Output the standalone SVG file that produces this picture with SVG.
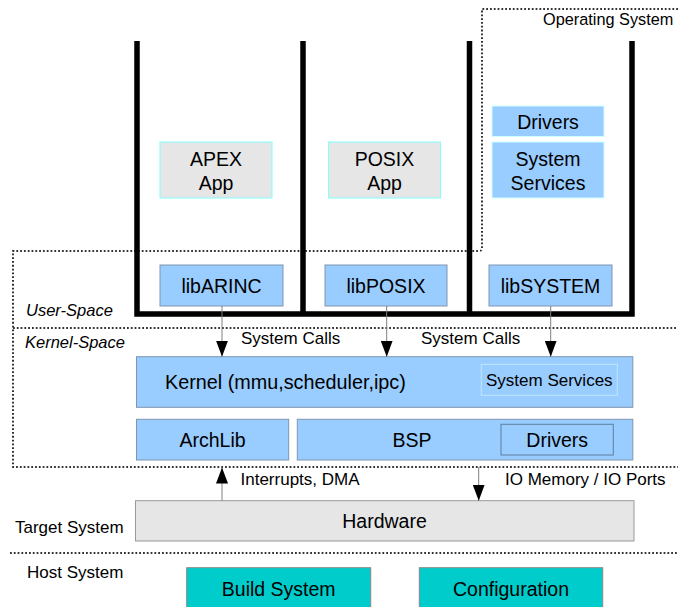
<svg xmlns="http://www.w3.org/2000/svg" width="678" height="607" viewBox="0 0 678 607">
<style>
text{font-family:"Liberation Sans",Arial,sans-serif;fill:#000}
.big{font-size:19.5px;text-anchor:middle}
.sm{font-size:17px}
.it{font-size:16.5px;font-style:italic}
.dot{fill:none;stroke:#333;stroke-width:2;stroke-dasharray:1.8 2}
.app{fill:#e6e6e6;stroke:#80ffff;stroke-width:1}
.osb{fill:#99ccff;stroke:#ccffff;stroke-width:1}
.blu{fill:#99ccff;stroke:#7f95b0;stroke-width:1}
.hw{fill:#e6e6e6;stroke:#999;stroke-width:1}
.host{fill:#00cccc;stroke:#888;stroke-width:1}
.arr{stroke:#808080;stroke-width:1;fill:none;marker-end:url(#ah)}
</style>
<defs>
<marker id="ah" markerUnits="userSpaceOnUse" markerWidth="16" markerHeight="12" refX="16" refY="6" orient="auto">
<path d="M0,0 L16,6 L0,12 z" fill="#000"/>
</marker>
</defs>
<rect width="678" height="607" fill="#fff"/>
<g id="regions">
<path class="dot" d="M678,9 H482 V248 Q482,251 479,251 H13 V467 H678"/>
<path class="dot" d="M13,328 H678"/>
<path class="dot" d="M10,553 H678"/>
<text x="543" y="25" style="font-size:16.3px">Operating System</text>
<text class="it" x="26" y="316">User-Space</text>
<text class="it" x="25" y="348">Kernel-Space</text>
<text class="sm" x="15" y="533">Target System</text>
<text class="sm" x="27" y="578">Host System</text>
</g>
<g id="partitions" fill="none" stroke="#000" stroke-width="5.5">
<path d="M137,41 V314 H632 V41"/>
<path d="M303,41 V314"/>
<path d="M469.5,41 V314"/>
</g>
<g id="apex"><rect class="app" x="160" y="142" width="112" height="56"/><text class="big" x="216" y="165.5">APEX</text><text class="big" x="216" y="189.5">App</text></g>
<g id="posix"><rect class="app" x="328.5" y="142" width="112" height="56"/><text class="big" x="384.5" y="165.5">POSIX</text><text class="big" x="384.5" y="189.5">App</text></g>
<g id="os-drivers"><rect class="osb" x="492" y="106" width="112" height="30.5"/><text class="big" x="548" y="128.5">Drivers</text></g>
<g id="os-services"><rect class="osb" x="492" y="142" width="112" height="56"/><text class="big" x="548" y="165.5">System</text><text class="big" x="548" y="189.5">Services</text></g>
<g id="libarinc"><rect class="blu" x="160" y="265" width="123" height="41"/><text class="big" x="221.5" y="292.5">libARINC</text></g>
<g id="libposix"><rect class="blu" x="325" y="265" width="122" height="41"/><text class="big" x="386" y="292.5">libPOSIX</text></g>
<g id="libsystem"><rect class="blu" x="489" y="265" width="123" height="41"/><text class="big" x="550.5" y="292.5">libSYSTEM</text></g>
<g id="kernel"><rect class="blu" x="136.5" y="356.7" width="496.3" height="50.6"/><text x="165" y="389" style="font-size:19.8px">Kernel (mmu,scheduler,ipc)</text>
<rect x="481.3" y="364.3" width="136" height="31" fill="none" stroke="#bfe6ff" stroke-width="1"/><text class="sm" x="549.3" y="386" text-anchor="middle">System Services</text></g>
<g id="archlib"><rect class="blu" x="136.5" y="419.3" width="152.2" height="40.7"/><text class="big" x="212.5" y="447">ArchLib</text></g>
<g id="bsp"><rect class="blu" x="297.3" y="419.3" width="335.5" height="40.7"/><text class="big" x="412" y="447">BSP</text>
<rect x="501" y="424.3" width="112.3" height="30.7" fill="none" stroke="#5f7fa0" stroke-width="1"/><text class="big" x="557.2" y="447">Drivers</text></g>
<g id="hardware"><rect class="hw" x="135.5" y="500.7" width="498.5" height="40.3"/><text class="big" x="384.5" y="528">Hardware</text></g>
<g id="build"><rect class="host" x="186.7" y="567.7" width="184" height="45"/><text class="big" x="278.7" y="596">Build System</text></g>
<g id="config"><rect class="host" x="419.3" y="567.7" width="183.4" height="45"/><text class="big" x="511" y="596">Configuration</text></g>
<g id="connectors">
<path class="arr" d="M222,306 V356.7"/>
<path class="arr" d="M386.7,306 V356.7"/>
<path class="arr" d="M550.7,306 V356.7"/>
<path class="arr" d="M222,500.7 V467.5"/>
<path class="arr" d="M478.7,467 V500.7"/>
<text class="sm" x="241" y="344">System Calls</text>
<text class="sm" x="421" y="344">System Calls</text>
<text class="sm" x="240.5" y="485">Interrupts, DMA</text>
<text class="sm" x="505" y="485">IO Memory / IO Ports</text>
</g>
</svg>
